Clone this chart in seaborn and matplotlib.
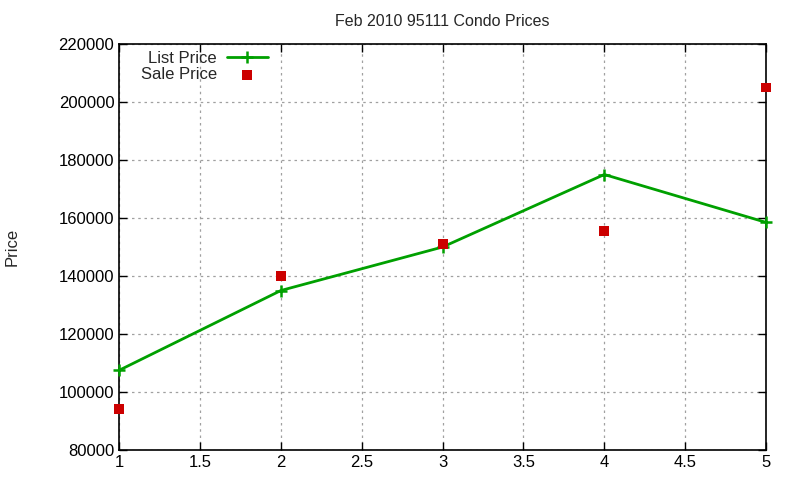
import matplotlib
matplotlib.use('Agg')
import matplotlib.pyplot as plt
import seaborn as sns
import pandas as pd

# Values
months = [1, 2, 3, 4, 5]
list_price = [107500, 135000, 150000, 175000, 158500]
sale_price = [94200, 140000, 151000, 155500, 205000]
x_ticks = [1, 1.5, 2, 2.5, 3, 3.5, 4, 4.5, 5]
y_ticks = list(range(80000, 220001, 20000))

df = pd.DataFrame({'x': months, 'list': list_price, 'sale': sale_price})

sns.set_style('white')
plt.rcParams['font.family'] = ['Liberation Sans', 'DejaVu Sans']

fig = plt.figure(figsize=(8, 4.8), dpi=100)
ax = fig.add_axes([0.149, 0.0625, 0.8085, 0.8458])

green = '#00a000'
red = '#cc0000'
sns.lineplot(data=df, x='x', y='list', ax=ax, color=green, lw=2,
             marker='+', markersize=8, markeredgewidth=1.8, markeredgecolor=green,
             label='List Price', clip_on=False, zorder=3)
sns.scatterplot(data=df, x='x', y='sale', ax=ax, color=red, marker='s',
                s=50, edgecolor='none', label='Sale Price', clip_on=False, zorder=4)

ax.set_xlim(1, 5)
ax.set_ylim(80000, 220000)
ax.set_xticks(x_ticks)
ax.set_xticklabels([f'{t:g}' for t in x_ticks])
ax.set_yticks(y_ticks)
ax.set_yticklabels([str(t) for t in y_ticks])
ax.grid(True, color='#a0a0a0', linestyle=(0, (2, 3)), lw=0.9)
ax.tick_params(direction='in', length=6, width=1, labelsize=12,
               top=True, right=True, left=True, bottom=True, colors='black')
for sp in ax.spines.values():
    sp.set_color('black')
    sp.set_linewidth(1.2)

ax.set_xlabel('')
ax.set_ylabel('Price', fontsize=12, labelpad=28)
ax.set_title('Feb 2010 95111 Condo Prices', fontsize=11.5, pad=13)

leg = ax.legend(loc='upper left', bbox_to_anchor=(0.015, 1.012), frameon=False,
                fontsize=12, markerfirst=False, handlelength=2.45,
                borderaxespad=0.3, labelspacing=0.1, handletextpad=0.6)
for t in leg.get_texts():
    t.set_ha('right')
leg._legend_box.align = 'right'

fig.savefig('out.png', dpi=100)
